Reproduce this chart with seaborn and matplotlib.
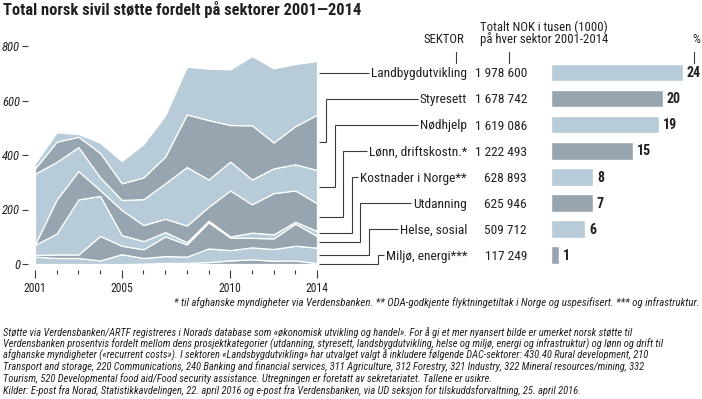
import numpy as np
import pandas as pd
import matplotlib
matplotlib.use("Agg")
import matplotlib.pyplot as plt
import matplotlib.transforms as mtrans
from matplotlib import font_manager as fm
import seaborn as sns

# ---------------- data ----------------
years = list(range(2001, 2015))
# stacked layers (million NOK), bottom -> top
miljo     = [0, 0, 0, 0, 0, 1, 4, 4, 7, 13, 17, 12, 13, 3]
helse     = [27, 22, 22, 13, 36, 21, 25, 23, 50, 38, 44, 43, 54, 57]
utdanning = [6, 13, 13, 90, 31, 32, 72, 45, 96, 46, 35, 39, 81, 43]
kostnader = [37, 77, 202, 147, 39, 30, 16, 8, 6, 4, 19, 15, 7, 18]
lonn      = [2, 125, 104, 21, 92, 59, 49, 61, 51, 169, 104, 151, 115, 102]
nodhjelp  = [259, 138, 88, 47, 37, 95, 130, 215, 100, 106, 91, 91, 96, 122]
styresett = [20, 74, 38, 90, 61, 80, 98, 193, 218, 134, 199, 95, 140, 203]
landbygd  = [18, 34, 10, 37, 82, 122, 151, 175, 189, 204, 254, 272, 228, 197]

# sector table (top -> bottom as listed on the right)
sectors = ["Landbygdutvikling", "Styresett", "Nødhjelp", "Lønn, driftskostn.*",
           "Kostnader i Norge**", "Utdanning", "Helse, sosial", "Miljø, energi***"]
totals = [1978600, 1678742, 1619086, 1222493, 628893, 625946, 509712, 117249]

yticks = [0, 200, 400, 600, 800]
xlabels_years = [2001, 2005, 2010, 2014]

title = "Total norsk sivil støtte fordelt på sektorer 2001\u20142014"
footnote = ("* til afghanske myndigheter via Verdensbanken. ** ODA-godkjente flyktningetiltak "
            "i Norge og uspesifisert. *** og infrastruktur.")
paragraph = [
    "Støtte via Verdensbanken/ARTF registreres i Norads database som «økonomisk utvikling og handel». For å gi et mer nyansert bilde er umerket norsk støtte til",
    "Verdensbanken prosentvis fordelt mellom dens prosjektkategorier (utdanning, styresett, landsbygdutvikling, helse og miljø, energi og infrastruktur) og lønn og drift til",
    "afghanske myndigheter («recurrent costs»). I sektoren «Landsbygdutvikling» har utvalget valgt å inkludere følgende DAC-sektorer: 430.40 Rural development, 210",
    "Transport and storage, 220 Communications, 240 Banking and financial services, 311 Agriculture, 312 Forestry, 321 Industry, 322 Mineral resources/mining, 332",
    "Tourism, 520 Developmental food aid/Food security assistance. Utregningen er foretatt av sekretariatet. Tallene er usikre.",
    "Kilder: E-post fra Norad, Statistikkavdelingen, 22. april 2016 og e-post fra Verdensbanken, via UD seksjon for tilskuddsforvaltning, 25. april 2016.",
]

# ---------------- style ----------------
sns.set_theme(style="white")
available = {f.name for f in fm.fontManager.ttflist}
candidates = ['Liberation Sans Narrow', 'DejaVu Sans Condensed', 'Roboto Condensed',
              'Open Sans Condensed', 'Roboto', 'DejaVu Sans']
fam = [c for c in candidates if c in available] + ['DejaVu Sans']
plt.rcParams['font.family'] = fam
NARROW = fam[0] in ('Liberation Sans Narrow', 'DejaVu Sans Condensed', 'Roboto Condensed',
                    'Open Sans Condensed')
SC = 1.0 if NARROW else 0.88

TXT = "#231f20"
LIGHT = "#b7cbd8"
DARK = "#97a5b1"
LINE = "#3a3a3a"
plt.rcParams['text.color'] = TXT

W, H = 702, 399
fig = plt.figure(figsize=(W / 100, H / 100), dpi=100)
fig.patch.set_facecolor("white")


def rect(l, t, r, b):
    return [l / W, 1 - b / H, (r - l) / W, (b - t) / H]


# ---------------- stacked area ----------------
layers = [miljo, helse, utdanning, kostnader, lonn, nodhjelp, styresett, landbygd]
layer_cols = [DARK, LIGHT] * 4
YMAX = 830
ax = fig.add_axes(rect(35, 264 - YMAX * 0.2725, 317, 264))
ax.stackplot(years, *layers, colors=layer_cols, edgecolor="white", linewidth=0.9)
ax.set_xlim(2001, 2014)
ax.set_ylim(0, YMAX)
for s in ax.spines.values():
    s.set_visible(False)
ax.spines['left'].set_position(('outward', 5))
ax.spines['bottom'].set_position(('outward', 4))
ax.set_yticks(yticks)
ax.set_yticklabels([str(v) for v in yticks])
ax.tick_params(axis='y', left=True, direction='out', length=4.3, width=0.8,
               color=LINE, pad=1.5, labelsize=9 * SC, labelcolor=TXT)
for lab in ax.get_yticklabels():
    lab.set_style('italic')
ax.set_xticks(xlabels_years)
ax.set_xticklabels([str(v) for v in xlabels_years])
ax.set_xticks(years, minor=True)
ax.tick_params(axis='x', which='major', bottom=True, direction='out', length=5.8,
               width=0.8, color=LINE, pad=3, labelsize=8.4 * SC, labelcolor=TXT)
ax.tick_params(axis='x', which='minor', bottom=True, direction='out', length=3.2,
               width=0.8, color=LINE)
ax.grid(False)

# ---------------- bars ----------------
total_sum = sum(totals)
pct = [t / total_sum * 100 for t in totals]
df = pd.DataFrame({"sector": sectors, "pct": pct})
bar_cols = [LIGHT, DARK] * 4
bax = fig.add_axes(rect(551, 59.45, 699, 268.25))
sns.barplot(data=df, x="pct", y="sector", hue="sector", palette=bar_cols,
            legend=False, width=0.67, saturation=1, ax=bax, orient="h")
bax.set_xlim(0, 148 / 5.59)
bax.set_ylim(len(sectors) - 0.5, -0.5)
bax.axis("off")
off = mtrans.offset_copy(bax.transData, fig=fig, x=4, y=-4.6, units="dots")
for i, p in enumerate(pct):
    bax.text(p, i, f"{round(p):d}", transform=off, ha="left", va="baseline",
             fontsize=10 * SC, fontweight="bold", color=TXT)

# ---------------- overlay (pixel coordinates) ----------------
ov = fig.add_axes([0, 0, 1, 1])
ov.set_xlim(0, W)
ov.set_ylim(H, 0)
ov.set_facecolor("none")
ov.axis("off")


def row_y(i):
    return H - bax.transData.transform((0, i))[1]


def val_y(v):
    return H - ax.transData.transform((2014, v))[1]


# title
ov.text(3, 15, title, fontsize=11.9 * SC, fontweight="bold", ha="left", va="baseline", color=TXT)

# headers
ov.text(464, 43, "SEKTOR", fontsize=9.2 * SC, ha="right", va="baseline")
ov.text(480, 31, "Totalt NOK i tusen (1000)", fontsize=9.2 * SC, ha="left", va="baseline")
ov.text(480, 43.5, "på hver sektor 2001-2014", fontsize=9.2 * SC, ha="left", va="baseline")
ov.text(696, 43, "%", fontsize=9.2 * SC, ha="center", va="baseline")
for hx in (456, 509, 694):
    ov.plot([hx, hx], [52, 63], color=LINE, lw=0.8)

# labels & values
label_texts = []
for i, (name, tot) in enumerate(zip(sectors, totals)):
    y = row_y(i)
    t = ov.text(467, y + 4.8, name, fontsize=9.6 * SC, ha="right", va="baseline")
    label_texts.append(t)
    ov.text(527, y + 4.8, f"{tot:,}".replace(",", " "), fontsize=9.6 * SC, ha="right", va="baseline")

# leader lines
fig.canvas.draw()
cum = np.cumsum(np.array(layers), axis=0)  # bottom -> top
last = cum[:, -1]
n = len(sectors)
for i, t in enumerate(label_texts):
    layer_idx = n - 1 - i  # labels listed top -> bottom
    top_v = last[layer_idx]
    bot_v = last[layer_idx - 1] if layer_idx > 0 else 0
    y_top, y_bot = val_y(top_v), val_y(bot_v)
    yr = row_y(i)
    x_end = t.get_window_extent().x0 - 2
    if y_top <= yr <= y_bot:
        ov.plot([319, x_end], [yr, yr], color=LINE, lw=0.8, solid_capstyle="butt")
    else:
        ya = val_y((top_v + bot_v) / 2)
        xe = 326 + 8.6 * (i - 1)
        ov.plot([319, xe, xe, x_end], [ya, ya, yr, yr], color=LINE, lw=0.8,
                solid_capstyle="butt", solid_joinstyle="miter")

# footnote and paragraph
ov.text(699, 306, footnote, fontsize=7.8 * SC, style="italic", ha="right", va="baseline")
for k, line in enumerate(paragraph):
    ov.text(3, 335.5 + 11.6 * k, line, fontsize=7.55 * SC, style="italic", ha="left", va="baseline")

fig.savefig("out.png", dpi=100, facecolor="white")
